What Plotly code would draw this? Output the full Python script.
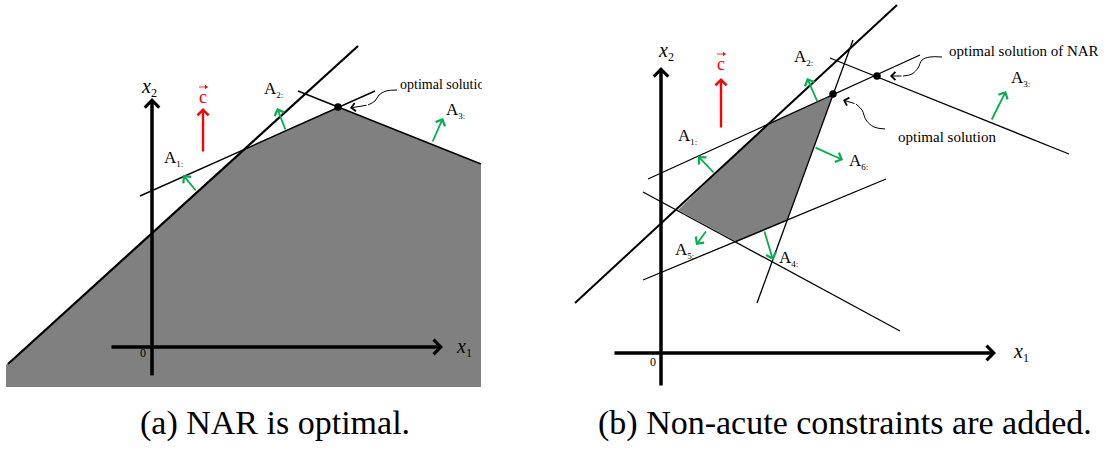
import plotly.graph_objects as go

W, H = 1113, 451
SERIF = "Liberation Serif"
GREEN = "#00b050"
GRAY = "#808080"

# ---------------- panel (a) geometry (pixel space) ----------------
a_fill_x = [6, 244, 338, 481, 481, 6]
a_fill_y = [365, 149, 107, 164, 387, 387]
a_A1_x = [8, 358];   a_A1_y = [364, 46]
a_A2_x = [140, 375]; a_A2_y = [196, 91]
a_A3_x = [298, 481]; a_A3_y = [91, 164]
a_opt = (338, 107)
a_x1_axis = [(110, 347), (443, 347)]
a_x2_axis = [(152, 377), (152, 98)]
a_c_arrow = [(203, 153), (203, 108)]
a_normals = {"1": [(197, 192), (183, 175)],
             "2": [(286, 131), (277, 108)],
             "3": [(432, 143), (443, 118)]}
a_labels = {"1": (162, 158), "2": (262, 89), "3": (444, 110)}
a_call_x = [397, 386, 379, 375, 368]
a_call_y = [90, 91, 95, 101, 105]
a_call_tip = (350, 108)
a_call_text = (400, 85)

# ---------------- panel (b) geometry ----------------
b_fill_x = [768, 833, 787, 737, 678]
b_fill_y = [124, 95, 221, 242, 210]
b_A1_x = [575, 897]; b_A1_y = [303, 5]
b_A2_x = [648, 920]; b_A2_y = [179, 55]
b_A3_x = [830, 1069]; b_A3_y = [58, 154]
b_A4_x = [643, 886]; b_A4_y = [280, 179]
b_A5_x = [643, 900]; b_A5_y = [192, 331]
b_A6_x = [757, 853]; b_A6_y = [303, 40]
b_opt = (833, 94)
b_nar = (877, 76)
b_x1_axis = [(613, 353), (996, 353)]
b_x2_axis = [(661, 387), (661, 67)]
b_c_arrow = [(721, 129), (721, 78)]
b_normals = {"1": [(715, 174), (698, 156)],
             "2": [(818, 103), (807, 78)],
             "3": [(991, 121), (1006, 91)],
             "4": [(764, 230), (773, 260)],
             "5": [(707, 230), (696, 245)],
             "6": [(814, 147), (843, 160)]}
b_labels = {"1": (676, 136), "2": (792, 57), "3": (1009, 78),
            "4": (777, 258), "5": (673, 250), "6": (847, 161)}
b_nar_call_x = [942, 930, 922, 918, 912, 903]
b_nar_call_y = [57, 57, 60, 68, 74, 76]
b_nar_call_tip = (890, 76)
b_nar_text = (947, 51)
b_opt_call_x = [885, 874, 866, 862, 856]
b_opt_call_y = [129, 127, 120, 110, 104]
b_opt_call_tip = (843, 100)
b_opt_text = (896, 137)

c_label_pos = [(203, 97), (721, 64)]

captions = ["(a) NAR is optimal.", "(b) Non-acute constraints are added."]
caption_pos = [(275, 423), (845, 423)]

fig = go.Figure()


def poly(xs, ys):
    fig.add_trace(go.Scatter(x=xs + [xs[0]], y=ys + [ys[0]], mode="lines", fill="toself",
                             fillcolor=GRAY, line=dict(width=0), hoverinfo="skip"))


def seg(xs, ys, w=1.3, shape="linear", color="black"):
    fig.add_trace(go.Scatter(x=xs, y=ys, mode="lines", line=dict(color=color, width=w, shape=shape),
                             hoverinfo="skip"))


def arrow(p0, p1, color="black", width=1.5, size=1.0, head=4):
    fig.add_annotation(x=p1[0], y=p1[1], ax=p0[0], ay=p0[1], xref="x", yref="y", axref="x", ayref="y",
                       showarrow=True, arrowhead=head, arrowsize=size, arrowwidth=width,
                       arrowcolor=color, text="", standoff=0)


def text(x, y, t, size=16, color="black", xanchor="left", yanchor="middle"):
    fig.add_annotation(x=x, y=y, xref="x", yref="y", text=t, showarrow=False,
                       xanchor=xanchor, yanchor=yanchor, font=dict(family=SERIF, size=size, color=color))


def dot(p):
    fig.add_trace(go.Scatter(x=[p[0]], y=[p[1]], mode="markers",
                             marker=dict(color="black", size=7.5), hoverinfo="skip"))


# panel (a)
poly(a_fill_x, a_fill_y)
seg(a_A1_x, a_A1_y, 2.2)
seg(a_A2_x, a_A2_y, 1.4)
seg(a_A3_x, a_A3_y, 1.4)
seg(a_call_x, a_call_y, 1.0, "spline")
fig.add_trace(go.Scatter(x=[a_call_text[0]], y=[a_call_text[1]], mode="text", text=["optimal solution"],
                         textposition="middle right", textfont=dict(family=SERIF, size=14, color="black"),
                         hoverinfo="skip"))
dot(a_opt)

# panel (b)
poly(b_fill_x, b_fill_y)
seg(b_A1_x, b_A1_y, 2.0)
for xs, ys in [(b_A2_x, b_A2_y), (b_A3_x, b_A3_y), (b_A4_x, b_A4_y), (b_A5_x, b_A5_y), (b_A6_x, b_A6_y)]:
    seg(xs, ys, 1.3)
seg(b_nar_call_x, b_nar_call_y, 1.0, "spline")
seg(b_opt_call_x, b_opt_call_y, 1.0, "spline")
dot(b_opt)
dot(b_nar)

# vector accent over the red c labels (tiny horizontal arrow)
for (x, y) in c_label_pos:
    seg([x - 4, x + 3], [y - 10, y - 10], 0.8, color="red")
    fig.add_trace(go.Scatter(x=[x + 3], y=[y - 10], mode="markers",
                             marker=dict(symbol="triangle-right", size=4, color="red"), hoverinfo="skip"))

# clip the panel (a) callout text at the panel edge
fig.add_shape(type="rect", x0=482, x1=560, y0=72, y1=98, fillcolor="white", line=dict(width=0), layer="above")

# arrows
for ax_ in [a_x1_axis, a_x2_axis, b_x1_axis, b_x2_axis]:
    arrow(ax_[0], ax_[1], "black", 3.5, 0.8)
for c in [a_c_arrow, b_c_arrow]:
    arrow(c[0], c[1], "red", 2.4, 0.9)
for k, v in a_normals.items():
    arrow(v[0], v[1], GREEN, 1.8, 1.1)
for k, v in b_normals.items():
    arrow(v[0], v[1], GREEN, 1.8, 1.1)
arrow((a_call_x[-1], a_call_y[-1]), a_call_tip, "black", 1.0, 1.6)
arrow((b_nar_call_x[-1], b_nar_call_y[-1]), b_nar_call_tip, "black", 1.0, 1.6)
arrow((b_opt_call_x[-1], b_opt_call_y[-1]), b_opt_call_tip, "black", 1.0, 1.6)

# labels
sub = "<sub><span style='font-size:9px'>{}:</span></sub>"
for k, (x, y) in a_labels.items():
    text(x, y, "A" + sub.format(k), 17)
for k, (x, y) in b_labels.items():
    text(x, y, "A" + sub.format(k), 17)

xlab = "<i>x</i><sub><span style='font-size:12px'>{}</span></sub>"
text(149, 87, xlab.format(2), 20, xanchor="center")
text(454, 347, xlab.format(1), 20)
text(666, 51, xlab.format(2), 20, xanchor="center")
text(1011, 352, xlab.format(1), 20)
text(143, 353, "0", 12, xanchor="center")
text(653, 362, "0", 12, xanchor="center")

for (x, y) in c_label_pos:
    text(x, y, "c", 18, "red", xanchor="center")

text(b_nar_text[0], b_nar_text[1], "optimal solution of NAR", 15)
text(b_opt_text[0], b_opt_text[1], "optimal solution", 15)

for t, (x, y) in zip(captions, caption_pos):
    text(x, y, t, 34, xanchor="center")

fig.update_xaxes(range=[0, W], visible=False, fixedrange=True)
fig.update_yaxes(range=[H, 0], visible=False, fixedrange=True)
fig.update_layout(width=W, height=H, autosize=False, margin=dict(l=0, r=0, t=0, b=0, pad=0),
                  paper_bgcolor="white", plot_bgcolor="white", showlegend=False)

fig.write_html("out.html", config={"displayModeBar": False},
               post_script="document.body.style.margin='0';document.body.style.overflow='hidden';")
